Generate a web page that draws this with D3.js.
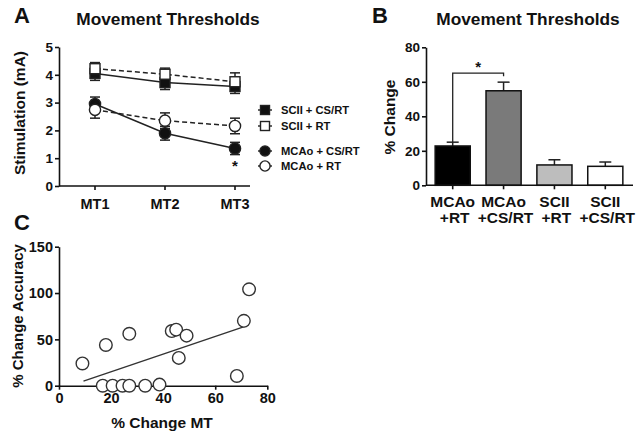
<!DOCTYPE html>
<html><head><meta charset="utf-8">
<script src="https://cdn.jsdelivr.net/npm/d3@7"></script>
<style>body{margin:0;background:#fff}svg{font-family:"Liberation Sans",Arial,sans-serif;font-weight:bold}</style>
</head><body><svg id="c" width="641" height="440"></svg>
<script>
// Panel A data
const timepoints = ["MT1","MT2","MT3"];
const sciiCSRT = [4.05, 3.72, 3.58];
const sciiCSRTerr = [0.25, 0.25, 0.25];
const sciiRT = [4.22, 4.02, 3.75];
const sciiRTerr = [0.22, 0.22, 0.32];
const mcaoCSRT = [2.95, 1.9, 1.35];
const mcaoCSRTerr = [0.25, 0.25, 0.22];
const mcaoRT = [2.74, 2.35, 2.16];
const mcaoRTerr = [0.3, 0.28, 0.28];
const seriesNames = ["SCII + CS/RT","SCII + RT","MCAo + CS/RT","MCAo + RT"];
const yTicksA = [0,1,2,3,4,5];
// Panel B data
const groupsB = [["MCAo","+RT"],["MCAo","+CS/RT"],["SCII","+RT"],["SCII","+CS/RT"]];
const pctChange = [22.8, 54.8, 11.8, 11];
const pctChangeErr = [2.2, 5, 3, 2.5];
const barFills = ["#000","#7a7a7a","#bdbdbd","#fff"];
const yTicksB = [0,20,40,60,80];
// Panel C data
const mtChange = [9, 18, 27, 43.3, 45, 49, 46, 68.3, 71, 73, 16.8, 20.6, 24.4, 27, 33.1, 38.6];
const accChange = [24, 44, 56, 59, 60.5, 54, 30, 10.5, 70, 104, 0, 0, 0, 0, 0, 1.2];
const fitX = [9.4, 72];
const fitY = [5, 64.5];
const xTicksC = [0,20,40,60,80];
const yTicksC = [0,50,100,150];

const svg = d3.select("#c");
const tickFont = 13.5;
const fmt = d3.format("d");

function txt(x,y,s,size,anchor,rot){
  const t = svg.append("text").attr("x",x).attr("y",y).attr("font-size",size).attr("text-anchor",anchor||"start").attr("fill","#111").text(s);
  if(rot) t.attr("transform",`rotate(${rot},${x},${y})`);
  return t;
}
function styleAxis(g){
  g.selectAll("path,line").attr("stroke","#111").attr("stroke-width",1.6);
  g.selectAll("text").attr("font-size",tickFont).attr("font-weight","bold").attr("font-family","Liberation Sans, Arial, sans-serif").attr("fill","#111");
}

// ---------- Panel A ----------
txt(14,23,"A",22);
txt(168,25,"Movement Thresholds",17.3,"middle");
const xA = d3.scalePoint().domain(timepoints).range([95,235]);
const yA = d3.scaleLinear().domain([0,5]).range([186,47]);
const gAy = svg.append("g").attr("transform","translate(59,0)").call(d3.axisLeft(yA).tickValues(yTicksA).tickFormat(fmt).tickSize(4).tickSizeOuter(0).tickPadding(2));
styleAxis(gAy);
const gAx = svg.append("g").attr("transform","translate(0,186)");
gAx.append("line").attr("x1",59).attr("x2",250).attr("y1",0).attr("y2",0);
gAx.selectAll(".t").data(timepoints).enter().append("line").attr("x1",d=>xA(d)).attr("x2",d=>xA(d)).attr("y1",0).attr("y2",4);
gAx.selectAll("text").data(timepoints).enter().append("text").attr("x",d=>xA(d)).attr("y",22.5).attr("text-anchor","middle").text(d=>d);
styleAxis(gAx);
gAx.selectAll("text").attr("font-size",14.5);
txt(25,113,"Stimulation (mA)",15.5,"middle",-90);

const seriesA = [
  {v:sciiCSRT,e:sciiCSRTerr,shape:"square",fill:"#111",dash:null},
  {v:sciiRT,e:sciiRTerr,shape:"square",fill:"#fff",dash:"5,3"},
  {v:mcaoCSRT,e:mcaoCSRTerr,shape:"circle",fill:"#111",dash:null},
  {v:mcaoRT,e:mcaoRTerr,shape:"circle",fill:"#fff",dash:"5,3"}
];
const line = d3.line().x((d,i)=>xA(timepoints[i])).y(d=>yA(d));
seriesA.forEach(s=>{
  svg.append("path").attr("d",line(s.v)).attr("fill","none").attr("stroke","#222").attr("stroke-width",1.5).attr("stroke-dasharray",s.dash);
});
seriesA.forEach(s=>{
  s.v.forEach((v,i)=>{
    const x = xA(timepoints[i]);
    const g = svg.append("g").attr("stroke","#222").attr("stroke-width",1.5);
    g.append("line").attr("x1",x).attr("x2",x).attr("y1",yA(v+s.e[i])).attr("y2",yA(v-s.e[i]));
    g.append("line").attr("x1",x-5).attr("x2",x+5).attr("y1",yA(v+s.e[i])).attr("y2",yA(v+s.e[i]));
    g.append("line").attr("x1",x-5).attr("x2",x+5).attr("y1",yA(v-s.e[i])).attr("y2",yA(v-s.e[i]));
  });
});
function marker(x,y,shape,fill,size){
  if(shape==="square") svg.append("rect").attr("x",x-size).attr("y",y-size).attr("width",size*2).attr("height",size*2).attr("fill",fill).attr("stroke","#222").attr("stroke-width",1.4);
  else svg.append("circle").attr("cx",x).attr("cy",y).attr("r",size+0.6).attr("fill",fill).attr("stroke","#222").attr("stroke-width",1.4);
}
seriesA.forEach(s=>s.v.forEach((v,i)=>marker(xA(timepoints[i]),yA(v),s.shape,s.fill,5)));
txt(235,yA(mcaoCSRT[2])+23,"*",15,"middle");

// legend
const legY = [110,126,151,166];
seriesA.forEach((s,i)=>{
  const y = legY[i];
  svg.append("line").attr("x1",258).attr("x2",272).attr("y1",y).attr("y2",y).attr("stroke","#222").attr("stroke-width",1.4);
  marker(265,y,s.shape,s.fill,4.5);
  txt(281,y+4,seriesNames[i],11.2,"start");
});

// ---------- Panel B ----------
txt(372,23,"B",22);
txt(528,25,"Movement Thresholds",17.3,"middle");
const xB = d3.scaleBand().domain(d3.range(groupsB.length)).range([426,632]).paddingInner(0.31).paddingOuter(0.18);
const yB = d3.scaleLinear().domain([0,80]).range([185.3,47.3]);
const gBy = svg.append("g").attr("transform","translate(426,0)").call(d3.axisLeft(yB).tickValues(yTicksB).tickFormat(fmt).tickSize(4).tickSizeOuter(0).tickPadding(2));
styleAxis(gBy);
txt(395,117,"% Change",15.5,"middle",-90);
pctChange.forEach((v,i)=>{
  const x = xB(i), w = xB.bandwidth(), cx = x+w/2;
  svg.append("line").attr("x1",cx).attr("x2",cx).attr("y1",yB(v)).attr("y2",yB(v+pctChangeErr[i])).attr("stroke","#222").attr("stroke-width",1.5);
  svg.append("line").attr("x1",cx-6).attr("x2",cx+6).attr("y1",yB(v+pctChangeErr[i])).attr("y2",yB(v+pctChangeErr[i])).attr("stroke","#222").attr("stroke-width",1.5);
  svg.append("rect").attr("x",x).attr("y",yB(v)).attr("width",w).attr("height",yB(0)-yB(v)).attr("fill",barFills[i]).attr("stroke","#111").attr("stroke-width",1.5);
});
const gBx = svg.append("g").attr("transform","translate(0,185.3)");
gBx.append("line").attr("x1",426).attr("x2",633).attr("y1",0).attr("y2",0);
groupsB.forEach((g,i)=>{
  const cx = xB(i)+xB.bandwidth()/2;
  gBx.append("line").attr("x1",cx).attr("x2",cx).attr("y1",0).attr("y2",4);
  gBx.append("text").attr("x",cx).attr("y",22).attr("text-anchor","middle").text(g[0]);
  gBx.append("text").attr("x",cx+2).attr("y",37.5).attr("text-anchor","middle").text(g[1]);
});
styleAxis(gBx);
gBx.selectAll("text").attr("font-size",15.5);
// significance bracket
const c1 = xB(0)+xB.bandwidth()/2, c2 = xB(1)+xB.bandwidth()/2;
svg.append("path").attr("d",`M${c1},${yB(pctChange[0]+pctChangeErr[0])}V${yB(65)}H${c2}V${yB(63.2)}`).attr("fill","none").attr("stroke","#222").attr("stroke-width",1.3);
txt((c1+c2)/2,yB(65)-1,"*",15,"middle");

// ---------- Panel C ----------
txt(14,230,"C",22);
const xC = d3.scaleLinear().domain([0,80]).range([59,267.3]);
const yC = d3.scaleLinear().domain([0,150]).range([385.7,246.7]);
const gCx = svg.append("g").attr("transform","translate(0,385.7)").call(d3.axisBottom(xC).tickValues(xTicksC).tickFormat(fmt).tickSize(4).tickSizeOuter(0).tickPadding(3));
styleAxis(gCx);
gCx.selectAll("text").attr("font-size",14.5);
const gCy = svg.append("g").attr("transform","translate(59,0)").call(d3.axisLeft(yC).tickValues(yTicksC).tickFormat(fmt).tickSize(4).tickSizeOuter(0).tickPadding(2));
styleAxis(gCy);
gCy.selectAll("text").attr("font-size",14.5);
txt(162,428,"% Change MT",15.5,"middle");
txt(23,316,"% Change Accuracy",15,"middle",-90);
svg.append("line").attr("x1",xC(fitX[0])).attr("x2",xC(fitX[1])).attr("y1",yC(fitY[0])).attr("y2",yC(fitY[1])).attr("stroke","#333").attr("stroke-width",1.4);
mtChange.forEach((x,i)=>{
  svg.append("circle").attr("cx",xC(x)).attr("cy",yC(accChange[i])).attr("r",6.3).attr("fill","#fff").attr("stroke","#333").attr("stroke-width",1.4);
});
</script></body></html>
